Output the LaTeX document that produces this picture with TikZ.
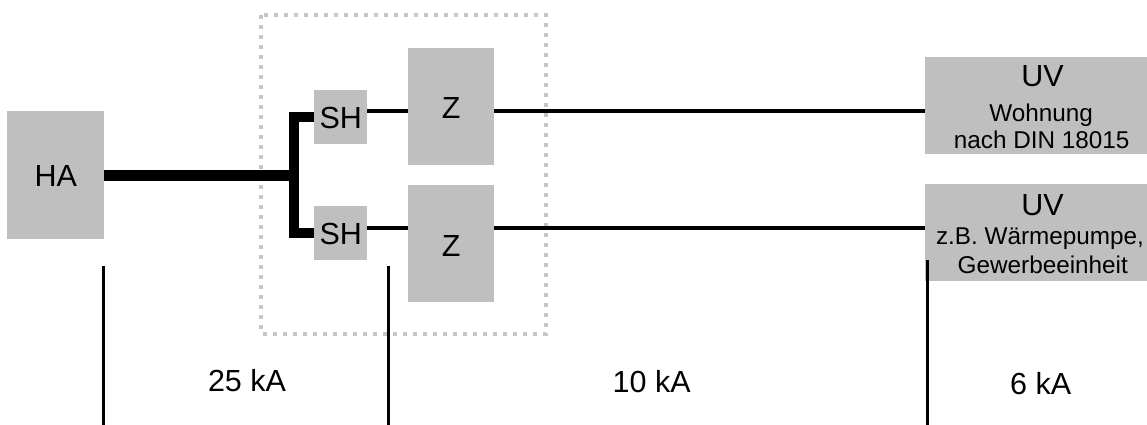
\documentclass[tikz,border=0pt]{standalone}
\usepackage{fontspec}
\setmainfont{Liberation Sans}
\definecolor{boxgray}{RGB}{191,191,191}
\definecolor{framegray}{RGB}{198,198,198}
\begin{document}
\begin{tikzpicture}[x=1pt,y=-1pt,
  box/.style={fill=boxgray, draw=none, inner sep=0pt, outer sep=0pt, rectangle},
  big/.style={font=\fontsize{30.5}{36}\selectfont, inner sep=0pt, anchor=base},
  small/.style={font=\fontsize{24.3}{29}\selectfont, inner sep=0pt, anchor=base},
  mainline/.style={line width=10.6pt, line join=miter},
  feed/.style={line width=4.8pt},
  tickline/.style={line width=3.3pt},
  frame/.style={draw=framegray, line width=4pt, dash pattern=on 4pt off 6pt}
]
\useasboundingbox (0,0) rectangle (1147,425);

% dotted frame around the meter area
\draw[frame] (261,15.3) rectangle (546,333.7);

% boxes
\node[box, minimum width=97pt, minimum height=128pt] (HA) at (55.5,175) {};
\node[box, minimum width=53.3pt, minimum height=54pt] (SH1) at (340.7,117) {};
\node[box, minimum width=53.3pt, minimum height=54pt] (SH2) at (340.7,233) {};
\node[box, minimum width=85.7pt, minimum height=117.3pt] (Z1) at (451.2,106.3) {};
\node[box, minimum width=85.7pt, minimum height=117.3pt] (Z2) at (451.2,243.5) {};
\node[box, minimum width=221.7pt, minimum height=97pt] (UV1) at (1036.15,105.8) {};
\node[box, minimum width=221.7pt, minimum height=96.4pt] (UV2) at (1036.15,232.5) {};

% texts
\node[big] (tHA) at (55.8,186.7) {HA};
\node[big] (tSH1) at (340.7,128.3) {SH};
\node[big] (tSH2) at (340.7,244.3) {SH};
\node[big] (tZ1) at (451.2,118.3) {Z};
\node[big] (tZ2) at (451.2,256) {Z};
\node[big] (tUV1) at (1042.5,86.7) {UV};
\node[small] (tUV1a) at (1041.2,121.7) {Wohnung};
\node[small] (tUV1b) at (1041.7,148.3) {nach DIN 18015};
\node[big] (tUV2) at (1042.5,215) {UV};
\node[small] (tUV2a) at (1040,244) {z.B. Wärmepumpe,};
\node[small] (tUV2b) at (1042.8,273.3) {Gewerbeeinheit};
\node[big] (k25) at (247,391.7) {25 kA};
\node[big] (k10) at (651.7,392.7) {10 kA};
\node[big] (k6) at (1040.7,394) {6 kA};

% main feed and split
\coordinate (split) at (293.8,175.3);
\draw[mainline] (HA.east |- split) -- (split);
\draw[mainline] (SH1.west) -- (SH1.west -| split) -- (SH2.west -| split) -- (SH2.west);

% feeder lines
\coordinate (y1) at (0,111);
\coordinate (y2) at (0,228);
\draw[feed] (SH1.east |- y1) -- (Z1.west |- y1);
\draw[feed] (Z1.east |- y1) -- (UV1.west |- y1);
\draw[feed] (SH2.east |- y2) -- (Z2.west |- y2);
\draw[feed] (Z2.east |- y2) -- (UV2.west |- y2);

% zone ticks
\coordinate (t1a) at (103.6,266);
\coordinate (t1b) at (103.6,425);
\coordinate (t2a) at (388.3,266);
\coordinate (t2b) at (388.3,425);
\coordinate (t3a) at (927.2,260);
\coordinate (t3b) at (927.2,425);
\draw[tickline] (t1a) -- (t1b);
\draw[tickline] (t2a) -- (t2b);
\draw[tickline] (t3a) -- (t3b);
\end{tikzpicture}
\end{document}
